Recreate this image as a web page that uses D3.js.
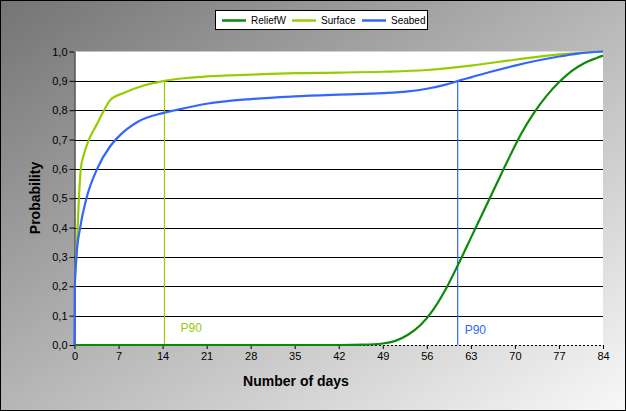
<!DOCTYPE html>
<html><head><meta charset="utf-8">
<script src="https://cdn.jsdelivr.net/npm/d3@7"></script>
<style>body{margin:0;padding:0;} svg{display:block;font-family:"Liberation Sans",Arial,sans-serif;}</style>
</head><body>
<script>
const seriesNames = ["ReliefW", "Surface", "Seabed"];
const seriesColors = ["#0a8a0a", "#99cc00", "#3366ff"];
const xTicks = [0, 7, 14, 21, 28, 35, 42, 49, 56, 63, 70, 77, 84];
const yTicks = [0, 0.1, 0.2, 0.3, 0.4, 0.5, 0.6, 0.7, 0.8, 0.9, 1.0];
const reliefW = [[0,0],[42,0],[46,0.001],[49,0.005],[51,0.014],[53,0.035],[55,0.068],[57,0.12],[59,0.19],[61,0.275],[63,0.365],[65,0.455],[67,0.545],[69,0.635],[71,0.72],[73,0.79],[75,0.848],[77,0.895],[79,0.933],[81,0.96],[83,0.978],[84,0.986]];
const surface = [[0,0.2],[0.3,0.3],[0.5,0.4],[0.7,0.5],[1.0,0.6],[1.5,0.65],[2.3,0.7],[3.5,0.75],[4.7,0.8],[5.7,0.835],[8,0.86],[11,0.884],[14.3,0.9],[17,0.908],[21,0.915],[28,0.921],[35,0.926],[42,0.928],[49,0.931],[56,0.937],[63,0.952],[70,0.972],[77,0.99],[84,1.0]];
const seabed = [[0,0],[0.05,0.2],[0.3,0.3],[0.9,0.4],[1.9,0.5],[3.6,0.6],[5.7,0.678],[7,0.71],[10,0.76],[14,0.79],[16,0.8],[21,0.822],[28,0.838],[35,0.847],[42,0.853],[49,0.858],[53,0.864],[56,0.873],[59,0.887],[61,0.9],[63,0.912],[66,0.93],[70,0.952],[74,0.971],[77,0.983],[80,0.993],[84,1.0]];
const p90Days = [14.3, 60.9];
const p90Labels = ["P90", "P90"];

const W = 626, H = 411;
const svg = d3.select("body").append("svg").attr("width", W).attr("height", H);
const defs = svg.append("defs");
const grad = defs.append("linearGradient").attr("id","bg").attr("x1","0").attr("y1","0").attr("x2","1").attr("y2","1");
grad.append("stop").attr("offset","0%").attr("stop-color","#747474");
grad.append("stop").attr("offset","100%").attr("stop-color","#f8f8f8");
svg.append("rect").attr("x",0.5).attr("y",0.5).attr("width",W-1).attr("height",H-1).attr("fill","url(#bg)").attr("stroke","#000");

const m = {left:74.5, right:603, top:51.5, bottom:345};
const x = d3.scaleLinear().domain([0,84]).range([m.left, m.right]);
const y = d3.scaleLinear().domain([0,1]).range([m.bottom, m.top]);

svg.append("rect").attr("x",m.left).attr("y",m.top).attr("width",m.right-m.left).attr("height",m.bottom-m.top).attr("fill","#fff");

// gridlines
svg.append("g").selectAll("line").data(yTicks.filter(v=>v>0 && v<1)).join("line")
  .attr("x1",m.left).attr("x2",m.right).attr("y1",d=>Math.round(y(d))+0.5).attr("y2",d=>Math.round(y(d))+0.5)
  .attr("stroke","#000").attr("stroke-width",1);

// y axis
const yAxis = d3.axisLeft(y).tickValues(yTicks).tickSize(5).tickSizeOuter(0).tickFormat(d=>d3.format(".1f")(d).replace(".",","));
const gy = svg.append("g").attr("transform",`translate(${m.left},0)`).call(yAxis);
gy.select(".domain").attr("stroke","#000");
gy.selectAll("text").attr("font-size","11px").attr("fill","#000").attr("x",-7);

// x axis
const xAxis = d3.axisBottom(x).tickValues(xTicks).tickSize(4).tickSizeOuter(0);
const gx = svg.append("g").attr("transform",`translate(0,${m.bottom})`).call(xAxis);
gx.select(".domain").attr("stroke","#000").attr("stroke-dasharray","2,2");
gx.selectAll("text").attr("font-size","11px").attr("fill","#000").attr("dy","0.85em").attr("y",6);

// P90 lines
p90Days.forEach((d,i)=>{
  const c = seriesColors[i+1];
  svg.append("line").attr("x1",x(d)).attr("x2",x(d)).attr("y1",y(0.9)).attr("y2",y(0)).attr("stroke",c).attr("stroke-width",1.2);
  svg.append("text").attr("x",x(d)+(i===0?16:7)).attr("y",i===0?332:334).attr("fill",c).attr("font-size","12px").text(p90Labels[i]);
});

// series lines
const line = d3.line().x(d=>x(d[0])).y(d=>y(d[1])).curve(d3.curveMonotoneX);
[reliefW, surface, seabed].forEach((s,i)=>{
  svg.append("path").datum(s).attr("d",line).attr("fill","none").attr("stroke",seriesColors[i]).attr("stroke-width",2.2);
});

// axis titles
svg.append("text").attr("x",296).attr("y",386).attr("text-anchor","middle").attr("font-size","14px").attr("font-weight","bold").text("Number of days");
svg.append("text").attr("transform","translate(40,198) rotate(-90)").attr("text-anchor","middle").attr("font-size","14px").attr("font-weight","bold").text("Probability");

// legend
const lg = svg.append("g");
lg.append("rect").attr("x",215.5).attr("y",10.5).attr("width",212).attr("height",19).attr("fill","#fff").attr("stroke","#000");
const legX = [222, 292, 362];
seriesNames.forEach((n,i)=>{
  lg.append("line").attr("x1",legX[i]).attr("x2",legX[i]+24).attr("y1",20.5).attr("y2",20.5).attr("stroke",seriesColors[i]).attr("stroke-width",2.5);
  lg.append("text").attr("x",legX[i]+29).attr("y",24).attr("font-size","10px").attr("fill","#000").text(n);
});
</script>
</body></html>
